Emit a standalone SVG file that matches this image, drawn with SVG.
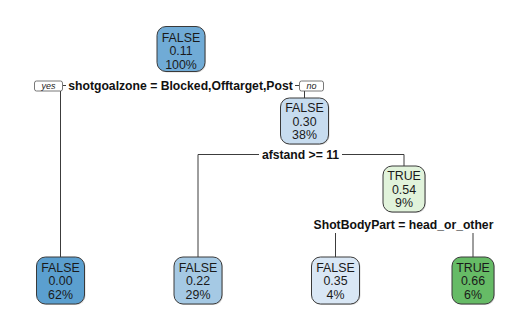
<svg xmlns="http://www.w3.org/2000/svg" width="531" height="331" viewBox="0 0 531 331">
  <style>
    .box { stroke: #3a3a3a; stroke-width: 1; }
    .shadow { fill: #dadada; }
    .txt { font-family: "Liberation Sans", Arial, sans-serif; font-size: 12.4px; fill: #1a1a1a; text-anchor: middle; }
    .split { font-family: "Liberation Sans", Arial, sans-serif; font-size: 12.2px; font-weight: bold; fill: #111; text-anchor: middle; }
    .tag { fill: #fff; stroke: #555; stroke-width: 0.8; }
    .tagtxt { font-family: "Liberation Sans", Arial, sans-serif; font-size: 9px; font-style: italic; fill: #222; text-anchor: middle; }
    .edge { stroke: #3c3c3c; stroke-width: 1; fill: none; }
  </style>

  <rect width="531" height="331" fill="#ffffff"/>

  <!-- branch lines -->
  <g id="connectors">
    <path class="edge" d="M60.5 91 V257"/>
    <path class="edge" d="M63 85.5 H66"/>
    <path class="edge" d="M295 85.5 H299"/>
    <path class="edge" d="M304.5 91 V98"/>
    <path class="edge" d="M198 257 V154.5 H259"/>
    <path class="edge" d="M342 154.5 H404 V166"/>
    <path class="edge" d="M335.5 233 V257"/>
    <path class="edge" d="M473 233 V257"/>
  </g>

  <!-- split labels -->
  <g id="splits">
    <g id="split-root">
      <rect class="tag" x="34.5" y="81" width="28" height="10" rx="2"/>
      <text class="tagtxt" x="48.5" y="89">yes</text>
      <text class="split" x="180.5" y="89.7">shotgoalzone = Blocked,Offtarget,Post</text>
      <rect class="tag" x="299.5" y="81" width="24" height="10" rx="2"/>
      <text class="tagtxt" x="311.5" y="89">no</text>
    </g>
    <text id="split-afstand" class="split" x="300.5" y="158.7">afstand &gt;= 11</text>
    <text id="split-body" class="split" x="403.5" y="229.2">ShotBodyPart = head_or_other</text>
  </g>

  <!-- root node -->
  <g id="node1">
    <rect class="shadow" x="158" y="27.5" width="48" height="45" rx="9"/>
    <rect class="box" x="157" y="26.5" width="48" height="45" rx="9" fill="#70abd6"/>
    <text class="txt" x="181" y="41.5">FALSE</text>
    <text class="txt" x="181" y="55">0.11</text>
    <text class="txt" x="181" y="68.5">100%</text>
  </g>

  <g id="node3">
    <rect class="shadow" x="281.5" y="99" width="48" height="46" rx="9"/>
    <rect class="box" x="280.5" y="98" width="48" height="46" rx="9" fill="#c7dcef"/>
    <text class="txt" x="304.5" y="112">FALSE</text>
    <text class="txt" x="304.5" y="125.5">0.30</text>
    <text class="txt" x="304.5" y="139">38%</text>
  </g>

  <g id="node7">
    <rect class="shadow" x="384" y="167" width="42" height="46" rx="9"/>
    <rect class="box" x="383" y="166" width="42" height="46" rx="9" fill="#e1f3db"/>
    <text class="txt" x="404" y="180">TRUE</text>
    <text class="txt" x="404" y="193.5">0.54</text>
    <text class="txt" x="404" y="207">9%</text>
  </g>

  <!-- leaves -->
  <g id="node2">
    <rect class="shadow" x="37.5" y="258" width="48" height="47" rx="9"/>
    <rect class="box" x="36.5" y="257" width="48" height="47" rx="9" fill="#5b9fcf"/>
    <text class="txt" x="60.5" y="271.5">FALSE</text>
    <text class="txt" x="60.5" y="285">0.00</text>
    <text class="txt" x="60.5" y="298.5">62%</text>
  </g>

  <g id="node6">
    <rect class="shadow" x="175" y="258" width="48" height="47" rx="9"/>
    <rect class="box" x="174" y="257" width="48" height="47" rx="9" fill="#a5c9e4"/>
    <text class="txt" x="198" y="271.5">FALSE</text>
    <text class="txt" x="198" y="285">0.22</text>
    <text class="txt" x="198" y="298.5">29%</text>
  </g>

  <g id="node14">
    <rect class="shadow" x="312.5" y="258" width="48" height="47" rx="9"/>
    <rect class="box" x="311.5" y="257" width="48" height="47" rx="9" fill="#d9e7f5"/>
    <text class="txt" x="335.5" y="271.5">FALSE</text>
    <text class="txt" x="335.5" y="285">0.35</text>
    <text class="txt" x="335.5" y="298.5">4%</text>
  </g>

  <g id="node15">
    <rect class="shadow" x="453" y="258" width="42" height="47" rx="9"/>
    <rect class="box" x="452" y="257" width="42" height="47" rx="9" fill="#66bb66"/>
    <text class="txt" x="473" y="271.5">TRUE</text>
    <text class="txt" x="473" y="285">0.66</text>
    <text class="txt" x="473" y="298.5">6%</text>
  </g>
</svg>
